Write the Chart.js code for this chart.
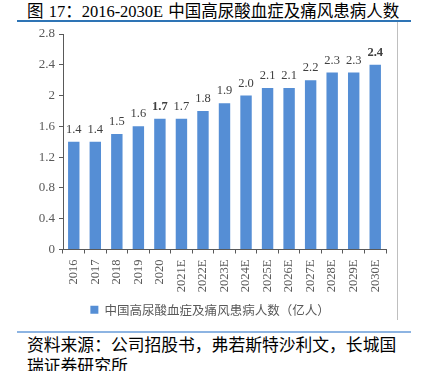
<!DOCTYPE html>
<html>
<head>
<meta charset="utf-8">
<script src="https://cdn.jsdelivr.net/npm/chart.js@4.4.0/dist/chart.umd.min.js"></script>
<style>
  html, body { margin: 0; padding: 0; background: #fff; width: 422px; height: 371px; overflow: hidden; }
  body { position: relative; font-family: "Liberation Serif", "Noto Sans CJK SC", serif; }
  #title { position: absolute; left: 27px; top: 1px; font-size: 16.5px; line-height: 22px; color: #000; white-space: nowrap; word-spacing: 1px; }
  #topRule { position: absolute; left: 17px; top: 20px; width: 394px; height: 2px; background: #2E74B5; }
  #rightRule { position: absolute; left: 397px; top: 22px; width: 1px; height: 298px; background: #BFBFBF; }
  #bottomRule { position: absolute; left: 17px; top: 331px; width: 394px; height: 2px; background: #8DB4E2; }
  #source { position: absolute; left: 27px; top: 334px; width: 376px; font-family: "Noto Sans CJK SC", sans-serif; font-size: 16.8px; line-height: 21px; color: #000; }
  #wrap { position: absolute; left: 0; top: 22px; width: 397px; height: 308px; }
</style>
</head>
<body>
<div id="title">图 17：2016-2030E 中国高尿酸血症及痛风患病人数</div>
<div id="topRule"></div>
<div id="rightRule"></div>
<div id="wrap"><canvas id="myChart" width="397" height="308"></canvas></div>
<div id="bottomRule"></div>
<div id="source">资料来源：公司招股书，弗若斯特沙利文，长城国瑞证券研究所</div>

<script>
var years = ['2016', '2017', '2018', '2019', '2020', '2021E', '2022E', '2023E', '2024E', '2025E', '2026E', '2027E', '2028E', '2029E', '2030E'];
var patients = [1.4, 1.4, 1.5, 1.6, 1.7, 1.7, 1.8, 1.9, 2.0, 2.1, 2.1, 2.2, 2.3, 2.3, 2.4];
var yTicks = [0, 0.4, 0.8, 1.2, 1.6, 2, 2.4, 2.8];
var seriesName = '中国高尿酸血症及痛风患病人数（亿人）';

var axisColor = '#595959';
var barColor = '#558ED5';

// value labels above bars (2020 and 2030E are bold in the original)
var valueLabels = {
    id: 'valueLabels',
    afterDatasetsDraw: function(chart) {
        var ctx = chart.ctx;
        var meta = chart.getDatasetMeta(0);
        ctx.save();
        ctx.fillStyle = '#404040';
        ctx.textAlign = 'center';
        ctx.textBaseline = 'bottom';
        meta.data.forEach(function(bar, i) {
            var bold = (years[i] === '2020' || years[i] === '2030E');
            ctx.font = (bold ? 'bold ' : '') + '12.5px "Liberation Serif"';
            ctx.fillText(patients[i].toFixed(1), bar.x, bar.y - 6);
        });
        ctx.restore();
    }
};

var ctx = document.getElementById('myChart').getContext('2d');

var myChart = new Chart(ctx, {
    type: 'bar',
    data: {
        labels: years,
        datasets: [{
            label: seriesName,
            data: patients,
            backgroundColor: barColor,
            barPercentage: 0.53,
            categoryPercentage: 1
        }]
    },
    options: {
        responsive: false,
        animation: false,
        layout: {
            padding: { left: 34, right: 11, top: 12, bottom: 4 }
        },
        plugins: {
            tooltip: { enabled: false },
            title: { display: false },
            legend: {
                position: 'bottom',
                labels: {
                    boxWidth: 8,
                    boxHeight: 8,
                    padding: 6,
                    color: axisColor,
                    font: { family: '"Noto Sans CJK SC"', size: 12.5 }
                }
            }
        },
        scales: {
            x: {
                offset: true,
                grid: {
                    display: true,
                    drawOnChartArea: false,
                    drawTicks: true,
                    tickLength: 4,
                    color: axisColor
                },
                border: { display: true, color: axisColor, width: 1 },
                ticks: {
                    color: axisColor,
                    minRotation: 90,
                    maxRotation: 90,
                    padding: 6,
                    font: { family: '"Liberation Serif"', size: 12.5 }
                },
                afterFit: function(scale) { scale.height = 48; }
            },
            y: {
                min: 0,
                max: 2.8,
                afterBuildTicks: function(scale) {
                    scale.ticks = yTicks.map(function(v) { return { value: v }; });
                },
                grid: {
                    display: true,
                    drawOnChartArea: false,
                    drawTicks: true,
                    tickLength: 4,
                    color: axisColor
                },
                border: { display: true, color: axisColor, width: 1 },
                ticks: {
                    color: axisColor,
                    padding: 4,
                    font: { family: '"Liberation Serif"', size: 13 },
                    callback: function(v) { return String(Math.round(v * 10) / 10); }
                },
                afterFit: function(scale) { scale.width = 29; }
            }
        }
    },
    plugins: [valueLabels]
});
</script>
</body>
</html>
